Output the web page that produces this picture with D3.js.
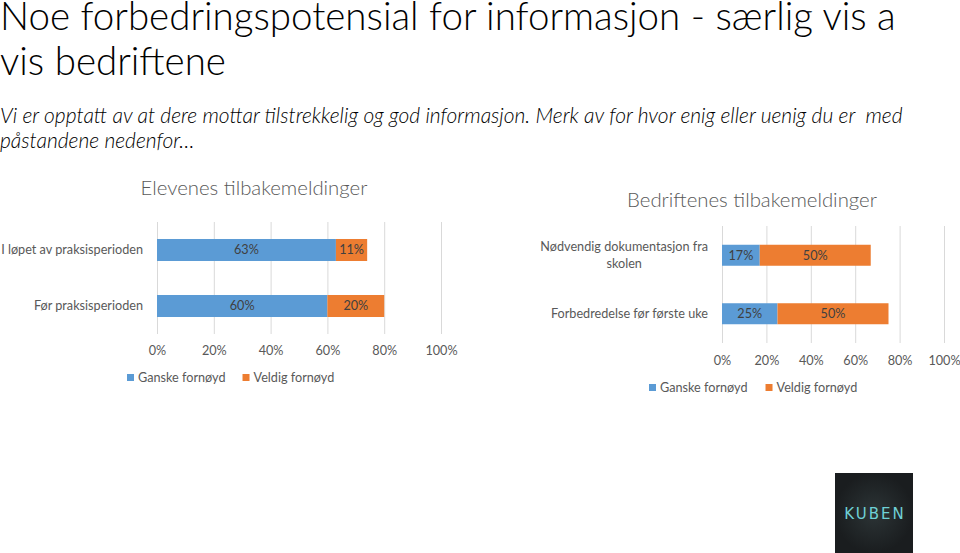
<!DOCTYPE html>
<html>
<head>
<meta charset="utf-8">
<script src="https://cdn.jsdelivr.net/npm/d3@7"></script>
<style>
  body { margin: 0; background: #fff; }
  svg { display: block; font-family: Lato, "Open Sans", sans-serif; }
  text { white-space: pre; }
</style>
</head>
<body>
<div id="chart"></div>
<script>
const width = 960, height = 553;

// data
const elevCategories = ["I løpet av praksisperioden", "Før praksisperioden"];
const elevGanske = [63, 60];
const elevVeldig = [11, 20];

const bedCategories = ["Nødvendig dokumentasjon fra|skolen", "Forbedredelse før første uke"];
const bedGanske = [17, 25];
const bedVeldig = [50, 50];

const tickValues = [0, 20, 40, 60, 80, 100];
const seriesNames = ["Ganske fornøyd", "Veldig fornøyd"];
const seriesColors = ["#5B9BD5", "#ED7D31"];

const titleLines = ["Noe forbedringspotensial for informasjon - særlig vis a", "vis bedriftene"];
const subtitleLines = ["Vi er opptatt av at dere mottar tilstrekkelig og god informasjon. Merk av for hvor enig eller uenig du er  med", "påstandene nedenfor…"];

const svg = d3.select("#chart").append("svg")
  .attr("width", width)
  .attr("height", height);

// scale a text's font size so its length matches the picture
const fit = (sel, w) => {
  const fs = parseFloat(sel.attr("font-size"));
  const len = sel.node().getComputedTextLength();
  sel.attr("font-size", fs * w / len);
  return fs * w / len;
};

// title
const t1 = svg.append("text").attr("x", 0).attr("y", 30)
  .attr("font-size", 36).attr("font-weight", 300).attr("fill", "#000")
  .text(titleLines[0]);
const titleSize = fit(t1, 896);
svg.append("text").attr("x", 0).attr("y", 75)
  .attr("font-size", titleSize).attr("font-weight", 300).attr("fill", "#000")
  .text(titleLines[1]);

// subtitle
const s1 = svg.append("text").attr("x", 0).attr("y", 123)
  .attr("font-size", 18).attr("font-style", "italic").attr("font-weight", 300).attr("fill", "#000")
  .text(subtitleLines[0]);
const subSize = fit(s1, 903);
svg.append("text").attr("x", 0).attr("y", 148)
  .attr("font-size", subSize).attr("font-style", "italic").attr("font-weight", 300).attr("fill", "#000")
  .text(subtitleLines[1]);

// measure label size once
const probe = svg.append("text").attr("font-size", 13).text(elevCategories[0]);
const labelSize = fit(probe, 142);
probe.remove();

const drawChart = (cfg) => {
  const g = svg.append("g");
  const x = d3.scaleLinear().domain([0, 100]).range(cfg.xRange);
  const y = d3.scaleBand().domain(cfg.categories).range(cfg.yRange)
    .paddingInner(cfg.pad).paddingOuter(cfg.pad / 2);

  // chart title
  const ct = g.append("text")
    .attr("x", cfg.titleX).attr("y", cfg.titleY)
    .attr("text-anchor", "middle")
    .attr("font-size", 19).attr("font-weight", 300).attr("fill", "#595959")
    .text(cfg.title);
  fit(ct, cfg.titleW);

  // gridlines + tick labels
  const axis = g.append("g")
    .attr("transform", `translate(0,${cfg.yRange[1]})`)
    .call(d3.axisBottom(x).tickValues(tickValues)
      .tickFormat(d => d + "%")
      .tickSize(-(cfg.yRange[1] - cfg.yRange[0]))
      .tickPadding(cfg.tickPad));
  axis.select(".domain").remove();
  axis.selectAll("line").attr("stroke", "#d9d9d9");
  axis.selectAll("text").attr("fill", "#595959")
    .attr("font-size", labelSize).attr("font-family", "Lato, 'Open Sans', sans-serif");

  // category labels
  cfg.categories.forEach(c => {
    const lines = c.split("|");
    const lbl = g.append("text")
      .attr("y", y(c) + y.bandwidth() / 2 - (lines.length - 1) * 8.5)
      .attr("dy", "0.35em")
      .attr("font-size", labelSize).attr("fill", "#595959");
    if (lines.length === 1) {
      lbl.attr("x", cfg.labelX).attr("text-anchor", "end").text(c);
    } else {
      // wrapped label, centred like the Excel one
      const first = lbl.append("tspan").text(lines[0]);
      const w = first.node().getComputedTextLength();
      const cx = cfg.labelX - w / 2;
      lbl.attr("text-anchor", "middle");
      first.attr("x", cx);
      lines.slice(1).forEach(l => lbl.append("tspan").attr("x", cx).attr("dy", 17).text(l));
    }
  });

  // stacked bars
  const rows = cfg.categories.map((c, i) => ({ c, vals: [cfg.ganske[i], cfg.veldig[i]] }));
  rows.forEach(r => {
    let start = 0;
    r.vals.forEach((v, k) => {
      g.append("rect")
        .attr("x", x(start)).attr("y", y(r.c))
        .attr("width", x(start + v) - x(start)).attr("height", y.bandwidth())
        .attr("fill", seriesColors[k]);
      g.append("text")
        .attr("x", x(start + v / 2)).attr("y", y(r.c) + y.bandwidth() / 2)
        .attr("dy", "0.35em").attr("text-anchor", "middle")
        .attr("font-size", labelSize).attr("fill", "#404040")
        .text(v + "%");
      start += v;
    });
  });

  // legend
  const lg = g.append("g").attr("transform", `translate(${cfg.legendX},${cfg.legendY})`);
  let lx = 0;
  seriesNames.forEach((name, k) => {
    lg.append("rect").attr("x", lx).attr("y", -4).attr("width", 7).attr("height", 7)
      .attr("fill", seriesColors[k]);
    const lt = lg.append("text").attr("x", lx + 11).attr("y", 0).attr("dy", "0.35em")
      .attr("font-size", labelSize).attr("fill", "#595959").text(name);
    lx += 11 + lt.node().getComputedTextLength() + cfg.legendGap;
  });
};

drawChart({
  categories: elevCategories, ganske: elevGanske, veldig: elevVeldig,
  xRange: [157, 441], yRange: [222, 334], pad: 0.607,
  title: "Elevenes tilbakemeldinger", titleX: 254, titleY: 195, titleW: 227,
  labelX: 143, tickPad: 12,
  legendX: 127, legendY: 378, legendGap: 17
});

drawChart({
  categories: bedCategories, ganske: bedGanske, veldig: bedVeldig,
  xRange: [722, 944], yRange: [226, 343], pad: 0.641,
  title: "Bedriftenes tilbakemeldinger", titleX: 752, titleY: 207, titleW: 250,
  labelX: 708, tickPad: 13,
  legendX: 649, legendY: 388, legendGap: 18
});

// logo
const logo = svg.append("g").attr("transform", "translate(835,473)");
const grad = svg.append("defs").append("radialGradient").attr("id", "logoGrad");
grad.append("stop").attr("offset", "0%").attr("stop-color", "#2c3436");
grad.append("stop").attr("offset", "100%").attr("stop-color", "#1a1d1f");
logo.append("rect").attr("width", 78).attr("height", 80).attr("fill", "url(#logoGrad)");
logo.append("text").attr("x", 40).attr("y", 41).attr("dy", "0.35em")
  .attr("text-anchor", "middle").attr("font-size", 15).attr("letter-spacing", 2)
  .attr("fill", "#6fd0d6").attr("font-family", "'DejaVu Sans', sans-serif")
  .text("KUBEN");
</script>
</body>
</html>
